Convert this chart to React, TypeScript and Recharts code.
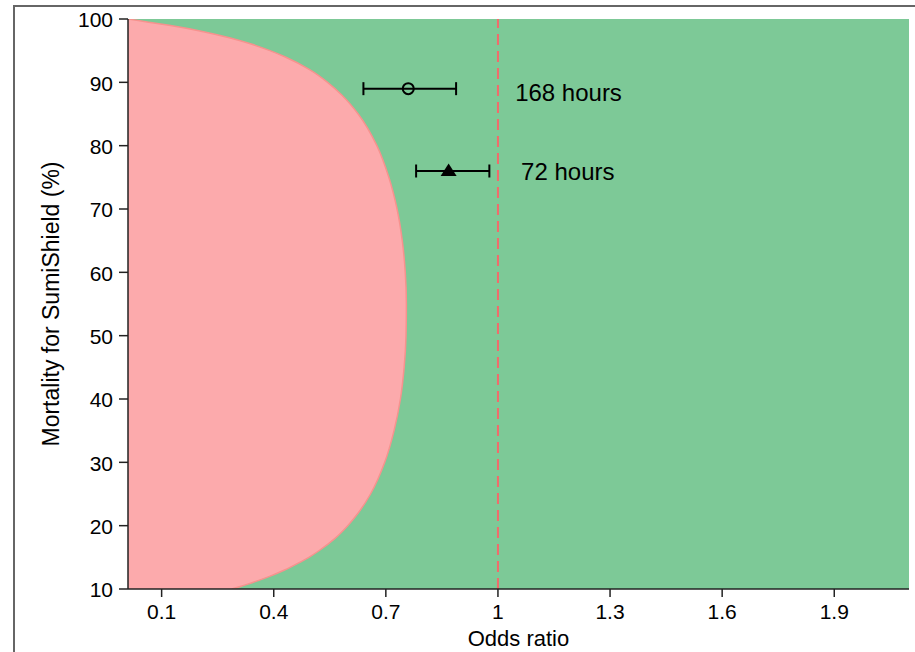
import React from 'react';
import {
  ComposedChart,
  Area,
  Scatter,
  ErrorBar,
  XAxis,
  YAxis,
  ReferenceLine,
  CartesianGrid,
  Label,
} from 'recharts';

const FONT = '"Liberation Sans", Arial, Helvetica, sans-serif';

// Boundary of the (red) region: mortality (%) vs odds ratio
const mortality = [10, 11, 12, 13, 14, 15, 16, 18, 20, 22, 25, 30, 35, 40, 45, 50, 55, 60, 65, 70, 75, 80, 85, 88, 90, 92, 94, 95, 96, 97, 98, 99, 99.5, 100];
const boundaryOR = [0.288, 0.342, 0.389, 0.429, 0.463, 0.494, 0.52, 0.564, 0.598, 0.626, 0.659, 0.697, 0.722, 0.739, 0.749, 0.754, 0.755, 0.752, 0.744, 0.73, 0.708, 0.676, 0.626, 0.582, 0.544, 0.496, 0.431, 0.39, 0.342, 0.284, 0.212, 0.12, 0.065, 0.01];

const xTicks = [0.1, 0.4, 0.7, 1, 1.3, 1.6, 1.9];
const yTicks = [10, 20, 30, 40, 50, 60, 70, 80, 90, 100];

// Estimates with confidence intervals
const estNames = ['168 hours', '72 hours'];
const estMortality = [89, 76];
const estOR = [0.76, 0.868];
const estLower = [0.64, 0.781];
const estUpper = [0.888, 0.977];
const labelOR = [1.046, 1.062];
const labelMortality = [88.4, 75.9];

const boundaryData = mortality.map((m, i) => ({ mort: m, or: boundaryOR[i] }));
const estData = estNames.map((n, i) => ({
  name: n,
  mort: estMortality[i],
  or: estOR[i],
  err: [estOR[i] - estLower[i], estUpper[i] - estOR[i]],
}));
const labelData = estNames.map((n, i) => ({ name: n, mort: labelMortality[i], or: labelOR[i] }));

const CircleShape = (props: any) => (
  <circle cx={props.cx} cy={props.cy} r={5.5} fill="none" stroke="#000" strokeWidth={2} />
);

const TriangleShape = (props: any) => {
  const { cx, cy } = props;
  return <path d={`M${cx},${cy - 7.5} L${cx + 8},${cy + 5} L${cx - 8},${cy + 5} Z`} fill="#000" />;
};

const TextShape = (props: any) => (
  <text x={props.cx} y={props.cy} dy="0.36em" fontSize={24} fontFamily={FONT} fill="#000">
    {props.payload.name}
  </text>
);

const XTick = (props: any) => (
  <text x={props.x} y={props.y} dy="0.72em" textAnchor="middle" fontSize={21} fontFamily={FONT} fill="#000">
    {props.payload.value}
  </text>
);

const YTick = (props: any) => (
  <text x={props.x} y={props.y} dy="0.4em" textAnchor="end" fontSize={21} fontFamily={FONT} fill="#000">
    {props.payload.value}
  </text>
);

const YLabel = (props: any) => {
  const vb = props.viewBox;
  const cx = vb.x + 51;
  const cy = vb.y + vb.height / 2;
  return (
    <text
      x={cx}
      y={cy}
      transform={`rotate(-90 ${cx} ${cy})`}
      textAnchor="middle"
      dominantBaseline="central"
      fontSize={23}
      fontFamily={FONT}
      fill="#000"
    >
      Mortality for SumiShield (%)
    </text>
  );
};

const XLabel = (props: any) => {
  const vb = props.viewBox;
  return (
    <text
      x={vb.x + vb.width / 2}
      y={vb.y + vb.height - 6}
      textAnchor="middle"
      fontSize={22}
      fontFamily={FONT}
      fill="#000"
    >
      Odds ratio
    </text>
  );
};

export default function App() {
  return (
    <div style={{ position: 'fixed', left: 0, top: 0, width: 915, height: 652, overflow: 'hidden', background: '#fff' }}>
      <div
        style={{
          position: 'absolute',
          left: 13,
          top: 5,
          width: 1000,
          height: 1000,
          border: '2px solid #666',
          boxSizing: 'border-box',
        }}
      />
      <div style={{ position: 'absolute', left: 0, top: 0 }}>
        <ComposedChart
          width={915}
          height={652}
          data={boundaryData}
          layout="vertical"
          margin={{ top: 19, right: 6, left: 0, bottom: 0 }}
        >
          <CartesianGrid fill="#7dc997" stroke="none" horizontal={false} vertical={false} />
          <Area
            dataKey="or"
            type="monotone"
            fill="#fcaaac"
            fillOpacity={1}
            stroke="#f7928e"
            strokeWidth={1.5}
            isAnimationActive={false}
            dot={false}
            activeDot={false}
          />
          <ReferenceLine x={1} stroke="#f26b6b" strokeWidth={2} strokeDasharray="11 6" />
          <Scatter data={[estData[0]]} shape={CircleShape} isAnimationActive={false}>
            <ErrorBar dataKey="err" direction="x" width={6.5} stroke="#000" strokeWidth={2} />
          </Scatter>
          <Scatter data={[estData[1]]} shape={TriangleShape} isAnimationActive={false}>
            <ErrorBar dataKey="err" direction="x" width={6.5} stroke="#000" strokeWidth={2} />
          </Scatter>
          <Scatter data={labelData} shape={TextShape} isAnimationActive={false} />
          <XAxis
            type="number"
            dataKey="or"
            domain={[0.01, 2.1]}
            ticks={xTicks}
            allowDataOverflow
            height={63}
            tickSize={8}
            tickMargin={7}
            axisLine={{ stroke: '#222', strokeWidth: 1.5 }}
            tickLine={{ stroke: '#222', strokeWidth: 1.5 }}
            tick={XTick}
          >
            <Label content={XLabel} />
          </XAxis>
          <YAxis
            type="number"
            dataKey="mort"
            domain={[10, 100]}
            ticks={yTicks}
            reversed
            allowDataOverflow
            width={128}
            tickSize={9}
            tickMargin={6}
            axisLine={{ stroke: '#222', strokeWidth: 1.5 }}
            tickLine={{ stroke: '#222', strokeWidth: 1.5 }}
            tick={YTick}
          >
            <Label content={YLabel} />
          </YAxis>
        </ComposedChart>
      </div>
    </div>
  );
}
